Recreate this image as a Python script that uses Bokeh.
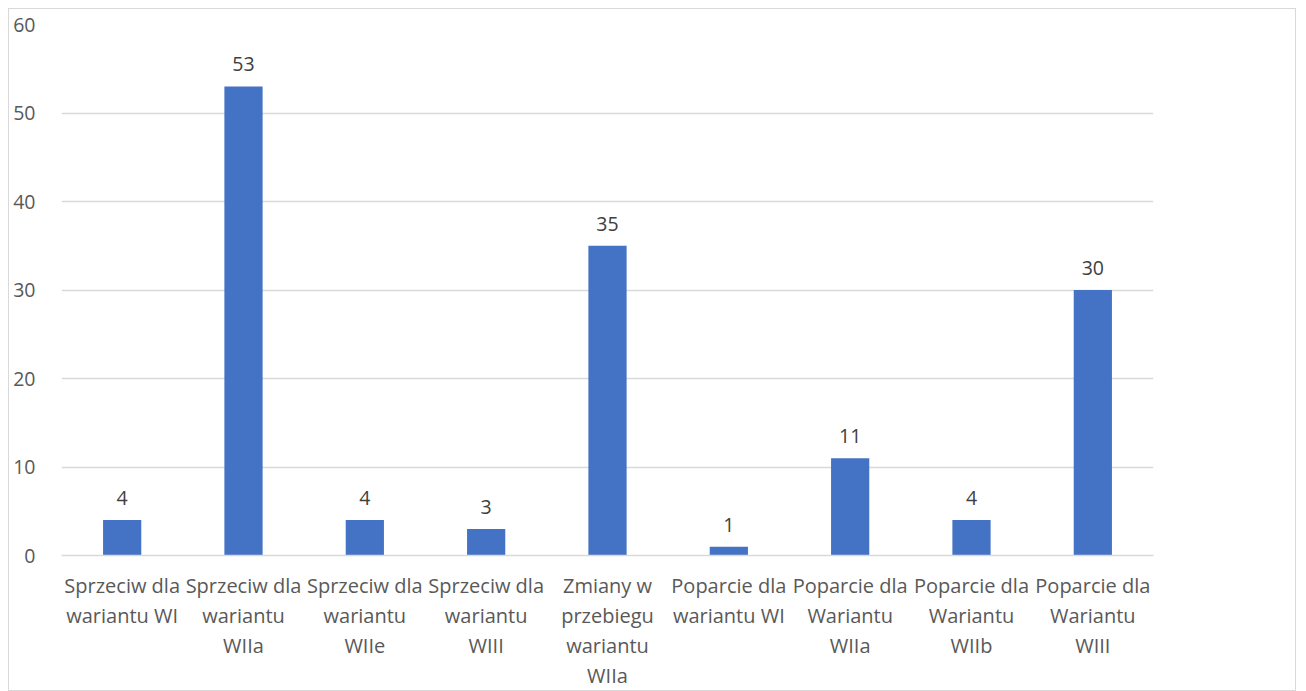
from bokeh.plotting import figure
from bokeh.models import ColumnDataSource, LabelSet, FactorRange
from bokeh.core.properties import value
from bokeh.embed import file_html
from bokeh.resources import INLINE

categories = [
    "Sprzeciw dla\nwariantu WI",
    "Sprzeciw dla\nwariantu\nWIIa",
    "Sprzeciw dla\nwariantu\nWIIe",
    "Sprzeciw dla\nwariantu\nWIII",
    "Zmiany w\nprzebiegu\nwariantu\nWIIa",
    "Poparcie dla\nwariantu WI",
    "Poparcie dla\nWariantu\nWIIa",
    "Poparcie dla\nWariantu\nWIIb",
    "Poparcie dla\nWariantu\nWIII",
]
values = [4, 53, 4, 3, 35, 1, 11, 4, 30]
y_ticks = [0, 10, 20, 30, 40, 50, 60]

src = ColumnDataSource(dict(cat=categories, val=values, lab=[str(v) for v in values]))

FONT = "Open Sans"

p = figure(
    x_range=FactorRange(*categories, range_padding=0),
    y_range=(0, 60),
    width=1288, height=683,
    output_backend="svg", toolbar_location=None,
    min_border_left=52, min_border_right=144, min_border_top=15, min_border_bottom=134,
)
p.styles = {"border": "1px solid #D9D9D9", "margin-left": "8px", "margin-top": "8px"}

p.vbar(x="cat", top="val", width=0.315, source=src, color="#4472C4", line_color=None)

labels = LabelSet(x="cat", y="val", text="lab", source=src, text_align="center",
                  text_baseline="bottom", y_offset=15, text_font_size="19.5px",
                  text_color="#404040", text_font=value(FONT))
p.add_layout(labels)

p.outline_line_color = None
p.xgrid.grid_line_color = None
p.ygrid.grid_line_color = "#D9D9D9"
p.ygrid.grid_line_width = 1.3
p.yaxis.ticker = y_ticks

p.yaxis.axis_line_color = None
p.yaxis.major_tick_line_color = None
p.yaxis.minor_tick_line_color = None
p.yaxis.major_label_standoff = 20
p.yaxis.major_label_text_font_size = "19.5px"
p.yaxis.major_label_text_color = "#595959"
p.yaxis.major_label_text_font = FONT

p.xaxis.axis_line_color = "#D9D9D9"
p.xaxis.axis_line_width = 1.3
p.xaxis.major_tick_line_color = None
p.xaxis.minor_tick_line_color = None
p.xaxis.major_label_standoff = 10
p.xaxis.major_label_text_font_size = "20px"
p.xaxis.major_label_text_color = "#595959"
p.xaxis.major_label_text_font = FONT
p.xaxis.major_label_text_line_height = 1.12

open("out.html", "w").write(file_html(p, INLINE))
